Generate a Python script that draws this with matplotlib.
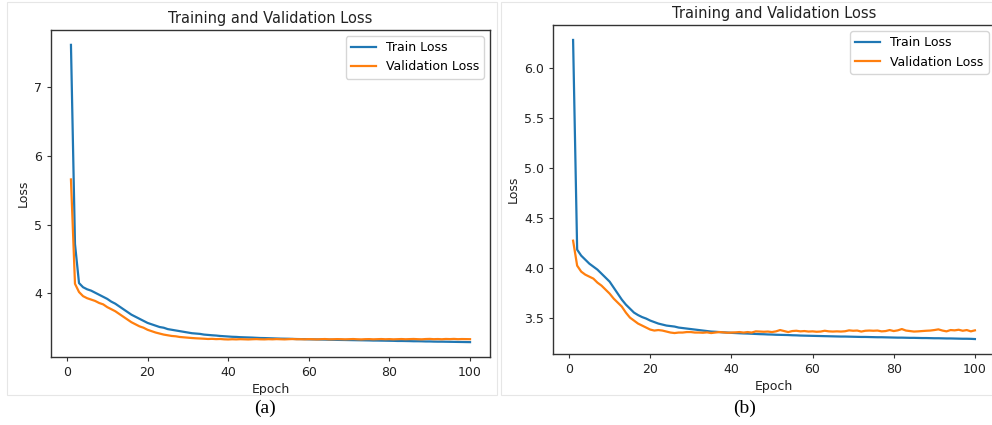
import matplotlib.pyplot as plt
from matplotlib.patches import Rectangle

epochs = list(range(1, 101))

# panel (a)
train_a = [7.62, 4.72, 4.15, 4.09, 4.06, 4.04, 4.01, 3.98, 3.95, 3.92,
           3.88, 3.85, 3.81, 3.77, 3.73, 3.69, 3.66, 3.63, 3.60, 3.57,
           3.55, 3.53, 3.51, 3.50, 3.48, 3.47, 3.46, 3.45, 3.44, 3.43,
           3.42, 3.415, 3.41, 3.40, 3.395, 3.39, 3.386, 3.38, 3.376, 3.372,
           3.368, 3.366, 3.362, 3.36, 3.358, 3.356, 3.353, 3.35, 3.349, 3.347,
           3.345, 3.343, 3.341, 3.34, 3.339, 3.337, 3.335, 3.334, 3.333, 3.331,
           3.33, 3.329, 3.328, 3.327, 3.325, 3.324, 3.323, 3.322, 3.321, 3.32,
           3.319, 3.318, 3.317, 3.316, 3.315, 3.313, 3.313, 3.312, 3.311, 3.31,
           3.309, 3.307, 3.307, 3.306, 3.305, 3.303, 3.303, 3.302, 3.30, 3.30,
           3.298, 3.297, 3.297, 3.296, 3.295, 3.294, 3.293, 3.292, 3.291, 3.29]
val_a = [5.66, 4.14, 4.02, 3.96, 3.93, 3.91, 3.89, 3.86, 3.84, 3.80,
         3.77, 3.74, 3.70, 3.66, 3.62, 3.58, 3.55, 3.52, 3.50, 3.47,
         3.45, 3.43, 3.415, 3.40, 3.39, 3.38, 3.375, 3.365, 3.36, 3.355,
         3.35, 3.346, 3.343, 3.34, 3.336, 3.338, 3.334, 3.336, 3.331, 3.329,
         3.332, 3.33, 3.333, 3.331, 3.329, 3.332, 3.334, 3.331, 3.33, 3.333,
         3.331, 3.334, 3.332, 3.33, 3.333, 3.335, 3.332, 3.333, 3.331, 3.334,
         3.332, 3.33, 3.333, 3.335, 3.331, 3.332, 3.334, 3.333, 3.331, 3.333,
         3.335, 3.332, 3.33, 3.333, 3.334, 3.331, 3.333, 3.335, 3.332, 3.334,
         3.331, 3.333, 3.335, 3.332, 3.334, 3.336, 3.333, 3.331, 3.335, 3.337,
         3.333, 3.335, 3.332, 3.336, 3.334, 3.337, 3.333, 3.335, 3.334, 3.333]

# panel (b)
train_b = [6.28, 4.18, 4.12, 4.08, 4.04, 4.01, 3.98, 3.94, 3.90, 3.86,
           3.80, 3.74, 3.68, 3.63, 3.59, 3.55, 3.525, 3.505, 3.49, 3.47,
           3.455, 3.44, 3.43, 3.42, 3.415, 3.41, 3.40, 3.395, 3.39, 3.385,
           3.38, 3.375, 3.37, 3.365, 3.36, 3.358, 3.355, 3.352, 3.35, 3.347,
           3.345, 3.343, 3.341, 3.34, 3.338, 3.336, 3.334, 3.333, 3.331, 3.33,
           3.328, 3.327, 3.326, 3.325, 3.323, 3.322, 3.32, 3.319, 3.318, 3.317,
           3.316, 3.315, 3.314, 3.313, 3.312, 3.311, 3.31, 3.31, 3.309, 3.308,
           3.307, 3.306, 3.306, 3.305, 3.304, 3.303, 3.303, 3.302, 3.301, 3.30,
           3.299, 3.299, 3.298, 3.297, 3.297, 3.296, 3.295, 3.295, 3.294, 3.293,
           3.293, 3.292, 3.291, 3.291, 3.29, 3.289, 3.288, 3.288, 3.287, 3.285]
val_b = [4.27, 4.02, 3.96, 3.93, 3.91, 3.89, 3.85, 3.82, 3.78, 3.74,
         3.69, 3.65, 3.61, 3.55, 3.50, 3.47, 3.44, 3.42, 3.40, 3.38,
         3.37, 3.375, 3.37, 3.36, 3.35, 3.345, 3.35, 3.35, 3.355, 3.355,
         3.35, 3.35, 3.348, 3.352, 3.345, 3.35, 3.355, 3.352, 3.348, 3.35,
         3.352, 3.355, 3.35, 3.355, 3.35, 3.362, 3.36, 3.358, 3.36, 3.355,
         3.362, 3.375, 3.365, 3.355, 3.365, 3.368, 3.362, 3.365, 3.36, 3.362,
         3.358, 3.36, 3.368, 3.362, 3.36, 3.362, 3.36, 3.363, 3.372, 3.368,
         3.37, 3.36, 3.368, 3.37, 3.368, 3.37, 3.362, 3.365, 3.375, 3.365,
         3.372, 3.385, 3.37, 3.365, 3.36, 3.362, 3.365, 3.368, 3.37, 3.375,
         3.382, 3.37, 3.362, 3.375, 3.372, 3.378, 3.368, 3.375, 3.362, 3.372]

W, H = 992, 425
fig = plt.figure(figsize=(W / 100, H / 100), dpi=100)

# faint screenshot frames
for x0, x1 in [(7, 497), (501, 992)]:
    fig.patches.append(Rectangle((x0 / W, 1 - 395 / H), (x1 - x0) / W, 393 / H,
                                 transform=fig.transFigure, fill=False,
                                 edgecolor='#e6e6e6', linewidth=0.8))


def panel(box, train, val):
    left, top, right, bottom = box
    ax = fig.add_axes([left / W, 1 - bottom / H, (right - left) / W, (bottom - top) / H])
    ax.plot(epochs, train, color='#1f77b4', lw=1.6, label='Train Loss')
    ax.plot(epochs, val, color='#ff7f0e', lw=1.6, label='Validation Loss')
    ax.set_title('Training and Validation Loss', fontsize=10.5, pad=5, color='#222222')
    ax.set_xlabel('Epoch', fontsize=9, labelpad=3, color='#222222')
    ax.set_ylabel('Loss', fontsize=9, labelpad=3, color='#222222')
    ax.tick_params(labelsize=9, length=3, color='#333333', labelcolor='#222222')
    for s in ax.spines.values():
        s.set_color('#333333')
        s.set_linewidth(1.0)
    ax.legend(loc='upper right', fontsize=9)
    return ax


ax_a = panel((51, 30, 490, 357), train_a, val_a)
ax_a.set_yticks([4, 5, 6, 7])

ax_b = panel((553, 25, 995, 354), train_b, val_b)
ax_b.set_yticks([3.5, 4.0, 4.5, 5.0, 5.5, 6.0])

fig.text(265 / W, 1 - 408 / H, '(a)', ha='center', va='center',
         family='Liberation Serif', fontsize=14)
fig.text(745 / W, 1 - 408 / H, '(b)', ha='center', va='center',
         family='Liberation Serif', fontsize=14)

fig.savefig('out.png', dpi=100)
